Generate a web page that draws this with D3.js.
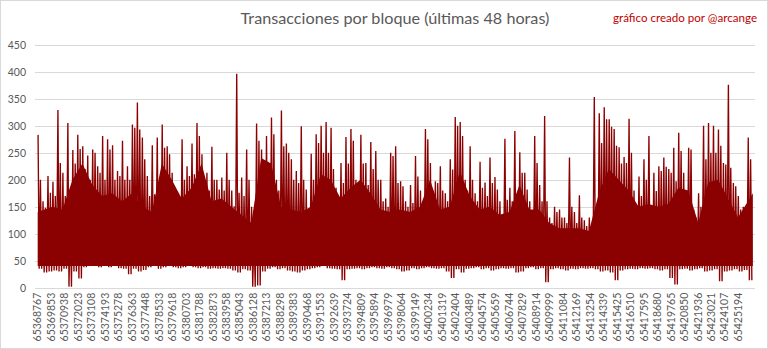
<!DOCTYPE html>
<html><head><meta charset="utf-8">
<script src="https://cdn.jsdelivr.net/npm/d3@7/dist/d3.min.js"></script>
<style>body{margin:0;background:#fff}svg{display:block}</style>
</head><body>
<svg id="c" width="768" height="349"></svg>
<script>
const titleText = "Transacciones por bloque (últimas 48 horas)";
const creditText = "gráfico creado por @arcange";
const firstBlock = 65368767;
const blocksPerSeg = 400;
const yTicks = [0,50,100,150,200,250,300,350,400,450];
const tickLabels = ["65368767","65369853","65370938","65372023","65373108","65374193","65375278","65376363","65377448","65378533","65379618","65380703","65381788","65382873","65383958","65385043","65386128","65387213","65388298","65389383","65390468","65391553","65392639","65393724","65394809","65395894","65396979","65398064","65399149","65400234","65401319","65402404","65403489","65404574","65405659","65406744","65407829","65408914","65409999","65411084","65412169","65413254","65414339","65415425","65416510","65417595","65418680","65419765","65420850","65421936","65423021","65424107","65425194"];
// highest transactions count in each 400-block slice
const peaks = [283,160,207,196,329,213,305,255,283,262,245,256,225,281,275,264,216,272,225,302,343,278,207,264,
278,302,262,213,160,275,225,267,305,247,213,261,200,204,250,180,396,204,256,150,304,256,281,315,
200,328,267,238,216,299,182,248,284,300,307,296,185,231,279,294,200,283,231,270,253,200,165,250,
262,197,160,190,244,180,294,231,197,225,175,238,316,307,200,262,175,233,195,241,205,160,276,185,
290,251,213,160,281,190,318,130,150,145,130,241,140,171,125,130,353,323,334,312,294,260,242,313,
180,206,238,281,213,225,241,220,259,287,213,259,145,175,300,305,300,293,231,376,194,170,150,278];
// second-highest spike in each 400-block slice
const seconds = [200,148,176,170,231,170,140,230,257,220,200,250,213,200,256,200,207,200,200,296,293,238,170,173,
182,259,247,180,151,200,207,210,281,200,180,200,182,180,200,151,176,170,200,108,272,200,230,284,
180,262,250,200,194,200,114,200,268,250,250,220,150,194,230,272,180,230,190,220,200,160,150,244,
194,188,150,157,206,160,275,180,194,180,160,219,300,281,180,200,160,185,170,194,182,133,163,160,
163,213,182,140,231,160,160,120,140,130,120,150,120,130,114,117,126,268,312,298,263,230,231,250,
151,170,200,151,179,216,224,213,197,253,180,256,130,150,238,250,250,263,228,222,188,145,140,238];
// lowest transactions count in each 400-block slice
const lows = [35,28,30,32,30,35,2,30,17,38,40,42,38,40,38,40,36,35,25,35,30,33,38,40,
35,38,40,38,36,38,40,38,36,38,35,36,35,36,35,32,28,34,32,2,4,30,35,38,
34,36,32,30,28,32,34,36,38,40,36,35,34,14,34,35,36,34,36,38,36,35,38,36,
34,30,32,36,34,36,38,36,35,36,30,18,34,28,35,36,38,34,36,32,34,36,35,36,
28,30,36,38,34,36,10,34,36,34,32,35,34,36,35,36,34,30,32,28,14,32,34,35,
34,36,35,36,34,32,34,18,6,34,35,32,34,36,30,32,34,12,30,32,34,30,33,14];
// typical upper level of the dense band in each 800-block slice
const cores = [140,150,145,200,230,190,170,175,160,175,150,140,
230,200,165,185,230,160,165,150,135,120,240,230,
150,145,140,150,210,200,165,185,200,175,145,140,
145,140,150,200,145,150,215,170,145,150,135,140,
190,145,145,120,110,110,110,105,175,220,200,180,
150,155,150,155,185,180,120,195,200,165,130,175];
const typicalLow = 40;

const svg = d3.select("#c");
const W = 768, H = 349;
const plotL = 35, plotR = 755, plotT = 44.7, plotB = 287.7;
const barColor = "#8B0000";
const font = "Lato, 'Open Sans', sans-serif";

svg.append("rect").attr("x",0.5).attr("y",0.5).attr("width",W-1).attr("height",H-1)
  .attr("fill","#fff").attr("stroke","#d9d9d9");

const x = d3.scaleLinear().domain([65368550, 65426540]).range([plotL, plotR]);
const y = d3.scaleLinear().domain([0,450]).range([plotB, plotT]);

// gridlines
svg.append("g").selectAll("line").data(yTicks).join("line")
  .attr("x1",plotL).attr("x2",plotR)
  .attr("y1",d=>Math.round(y(d))+0.5).attr("y2",d=>Math.round(y(d))+0.5)
  .attr("stroke","#d9d9d9").attr("stroke-width",1);

// y axis labels
const yAxis = d3.axisLeft(y).tickValues(yTicks).tickSize(0).tickPadding(0);
const gy = svg.append("g").attr("transform",`translate(${plotL-9},0)`).call(yAxis);
gy.select(".domain").remove();
gy.selectAll("text").attr("fill","#595959").style("font-family",font).style("font-size","10.5px");

// dense band
const coreData = cores.map((v,k)=>({b:firstBlock + k*2*blocksPerSeg + blocksPerSeg, v}));
coreData[0].b = firstBlock; coreData[coreData.length-1].b = firstBlock + peaks.length*blocksPerSeg;
svg.append("path").datum(coreData)
  .attr("d", d3.area().x(d=>x(d.b)).y0(y(typicalLow)).y1(d=>y(d.v)))
  .attr("fill", barColor);

// spikes between slice maxima and minima
const pts = [];
peaks.forEach((p,i)=>{
  const b0 = firstBlock + i*blocksPerSeg;
  pts.push([b0 + 30, p]);
  pts.push([b0 + 120, lows[i]]);
  pts.push([b0 + 220, seconds[i]]);
  pts.push([b0 + 320, lows[i]]);
});
svg.append("path").datum(pts)
  .attr("d", d3.line().x(d=>x(d[0])).y(d=>y(d[1])))
  .attr("fill","none").attr("stroke",barColor).attr("stroke-width",1.35);

// x axis labels
const gx = svg.append("g");
gx.selectAll("text").data(tickLabels).join("text")
  .attr("transform",(d,i)=>`translate(${x(firstBlock + i*1085.1)},${plotB+5}) rotate(-90)`)
  .attr("text-anchor","end").attr("dy","0.35em")
  .attr("fill","#595959").style("font-family",font).style("font-size","10.5px")
  .text(d=>d);

// title and credit
const t = svg.append("text").attr("x",395).attr("y",24).attr("text-anchor","middle")
  .attr("fill","#595959").style("font-family",font).style("font-size","17px").text(titleText);
const tw = t.node().getComputedTextLength();
t.style("font-size", (17*309/tw).toFixed(2)+"px");
const c = svg.append("text").attr("x",757).attr("y",22).attr("text-anchor","end")
  .attr("fill","#C00000").style("font-family",font).style("font-size","12px").text(creditText);
const cw = c.node().getComputedTextLength();
c.style("font-size", (12*144/cw).toFixed(2)+"px");
</script>
</body></html>
